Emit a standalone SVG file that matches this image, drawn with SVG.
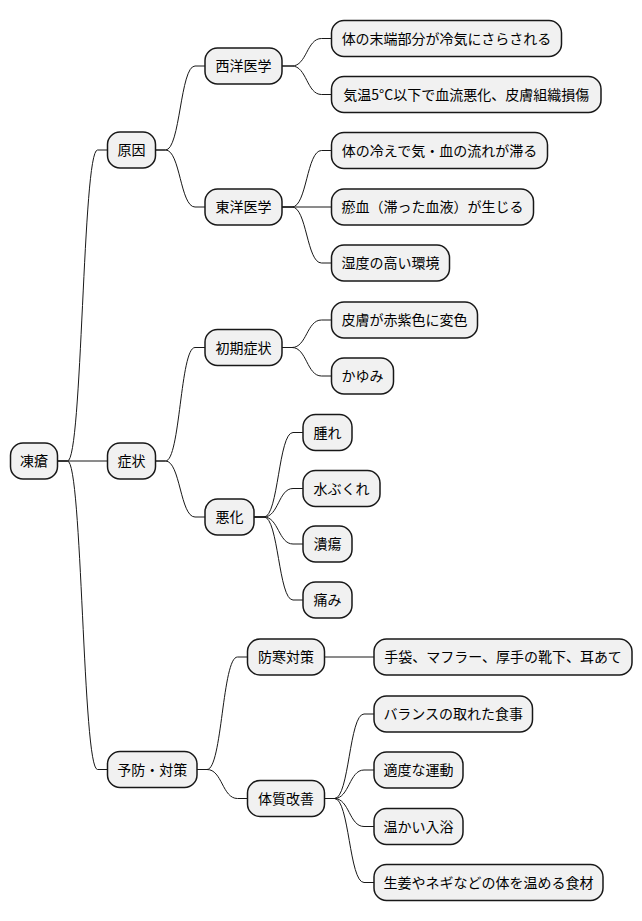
<svg xmlns="http://www.w3.org/2000/svg" width="642" height="921" viewBox="0 0 642 921">
<style>
.n rect{fill:#F1F1F1;stroke:#181818;stroke-width:1.5}
.n text{font-family:"Noto Sans CJK JP","Noto Sans",sans-serif;font-size:14px;fill:#000;text-anchor:middle}
#edges path{fill:none;stroke:#181818;stroke-width:1}
</style>
<rect width="642" height="921" fill="#FFFFFF"/>
<g id="edges">
<path d="M57.5,461 L67.5,461 C82.5,461 82.5,150 97.5,150 L107.5,150"/>
<path d="M57.5,461 L107.5,461"/>
<path d="M57.5,461 L67.5,461 C82.5,461 82.5,769.5 97.5,769.5 L107.5,769.5"/>
<path d="M155.5,150 L165.5,150 C180.25,150 180.25,66 195,66 L205,66"/>
<path d="M155.5,150 L165.5,150 C180.25,150 180.25,207 195,207 L205,207"/>
<path d="M155.5,461 L165.5,461 C180.25,461 180.25,347.5 195,347.5 L205,347.5"/>
<path d="M155.5,461 L165.5,461 C180.25,461 180.25,517 195,517 L205,517"/>
<path d="M197,769.5 L207,769.5 C222.25,769.5 222.25,657 237.5,657 L247.5,657"/>
<path d="M197,769.5 L207,769.5 C222.25,769.5 222.25,798.5 237.5,798.5 L247.5,798.5"/>
<path d="M282,66 L292,66 C306.75,66 306.75,38.5 321.5,38.5 L331.5,38.5"/>
<path d="M282,66 L292,66 C306.75,66 306.75,94.5 321.5,94.5 L331.5,94.5"/>
<path d="M282,207 L292,207 C306.75,207 306.75,150.5 321.5,150.5 L331.5,150.5"/>
<path d="M282,207 L331.5,207"/>
<path d="M282,207 L292,207 C306.75,207 306.75,263 321.5,263 L331.5,263"/>
<path d="M282,347.5 L292,347.5 C306.75,347.5 306.75,320 321.5,320 L331.5,320"/>
<path d="M282,347.5 L292,347.5 C306.75,347.5 306.75,376 321.5,376 L331.5,376"/>
<path d="M254,517 L264,517 C278.5,517 278.5,432.5 293,432.5 L303,432.5"/>
<path d="M254,517 L264,517 C278.5,517 278.5,488.5 293,488.5 L303,488.5"/>
<path d="M254,517 L264,517 C278.5,517 278.5,544 293,544 L303,544"/>
<path d="M254,517 L264,517 C278.5,517 278.5,600 293,600 L303,600"/>
<path d="M324.5,657 L374,657"/>
<path d="M324.5,798.5 L334.5,798.5 C349.25,798.5 349.25,714 364,714 L374,714"/>
<path d="M324.5,798.5 L334.5,798.5 C349.25,798.5 349.25,770 364,770 L374,770"/>
<path d="M324.5,798.5 L334.5,798.5 C349.25,798.5 349.25,826.5 364,826.5 L374,826.5"/>
<path d="M324.5,798.5 L334.5,798.5 C349.25,798.5 349.25,882.5 364,882.5 L374,882.5"/>
</g>
<g id="root" class="n"><rect x="10.5" y="443" width="47" height="36" rx="12.5"/><text x="34" y="466">凍瘡</text></g>
<g id="gen-in" class="n"><rect x="107.5" y="132" width="48" height="36" rx="12.5"/><text x="131.5" y="155">原因</text></g>
<g id="shojo" class="n"><rect x="107.5" y="443" width="48" height="36" rx="12.5"/><text x="131.5" y="466">症状</text></g>
<g id="yobo" class="n"><rect x="107.5" y="751.5" width="89.5" height="36" rx="12.5"/><text x="152.25" y="774.5">予防・対策</text></g>
<g id="seiyo" class="n"><rect x="205" y="48" width="77" height="36" rx="12.5"/><text x="243.5" y="71">西洋医学</text></g>
<g id="toyo" class="n"><rect x="205" y="189" width="77" height="36" rx="12.5"/><text x="243.5" y="212">東洋医学</text></g>
<g id="shoki" class="n"><rect x="205" y="329.5" width="77" height="36" rx="12.5"/><text x="243.5" y="352.5">初期症状</text></g>
<g id="akka" class="n"><rect x="205" y="499" width="49" height="36" rx="12.5"/><text x="229.5" y="522">悪化</text></g>
<g id="bokan" class="n"><rect x="247.5" y="639" width="77" height="36" rx="12.5"/><text x="286" y="662">防寒対策</text></g>
<g id="taishitsu" class="n"><rect x="247.5" y="780.5" width="77" height="36" rx="12.5"/><text x="286" y="803.5">体質改善</text></g>
<g id="s1" class="n"><rect x="331.5" y="20.5" width="230" height="36" rx="12.5"/><text x="446.5" y="43.5">体の末端部分が冷気にさらされる</text></g>
<g id="s2" class="n"><rect x="331.5" y="76.5" width="269.5" height="36" rx="12.5"/><text x="466.25" y="99.5">気温5°C以下で血流悪化、皮膚組織損傷</text></g>
<g id="t1" class="n"><rect x="331.5" y="132.5" width="216" height="36" rx="12.5"/><text x="439.5" y="155.5">体の冷えで気・血の流れが滞る</text></g>
<g id="t2" class="n"><rect x="331.5" y="189" width="202" height="36" rx="12.5"/><text x="432.5" y="212">瘀血（滞った血液）が生じる</text></g>
<g id="t3" class="n"><rect x="331.5" y="245" width="118" height="36" rx="12.5"/><text x="390.5" y="268">湿度の高い環境</text></g>
<g id="k1" class="n"><rect x="331.5" y="302" width="146" height="36" rx="12.5"/><text x="404.5" y="325">皮膚が赤紫色に変色</text></g>
<g id="k2" class="n"><rect x="331.5" y="358" width="62" height="36" rx="12.5"/><text x="362.5" y="381">かゆみ</text></g>
<g id="a1" class="n"><rect x="303" y="414.5" width="49" height="36" rx="12.5"/><text x="327.5" y="437.5">腫れ</text></g>
<g id="a2" class="n"><rect x="303" y="470.5" width="77" height="36" rx="12.5"/><text x="341.5" y="493.5">水ぶくれ</text></g>
<g id="a3" class="n"><rect x="303" y="526" width="49" height="36" rx="12.5"/><text x="327.5" y="549">潰瘍</text></g>
<g id="a4" class="n"><rect x="303" y="582" width="49" height="36" rx="12.5"/><text x="327.5" y="605">痛み</text></g>
<g id="b1" class="n"><rect x="374" y="639" width="258" height="36" rx="12.5"/><text x="503" y="662">手袋、マフラー、厚手の靴下、耳あて</text></g>
<g id="c1" class="n"><rect x="374" y="696" width="158.5" height="36" rx="12.5"/><text x="453.25" y="719">バランスの取れた食事</text></g>
<g id="c2" class="n"><rect x="374" y="752" width="89" height="36" rx="12.5"/><text x="418.5" y="775">適度な運動</text></g>
<g id="c3" class="n"><rect x="374" y="808.5" width="89" height="36" rx="12.5"/><text x="418.5" y="831.5">温かい入浴</text></g>
<g id="c4" class="n"><rect x="374" y="864.5" width="229" height="36" rx="12.5"/><text x="488.5" y="887.5">生姜やネギなどの体を温める食材</text></g>
</svg>
